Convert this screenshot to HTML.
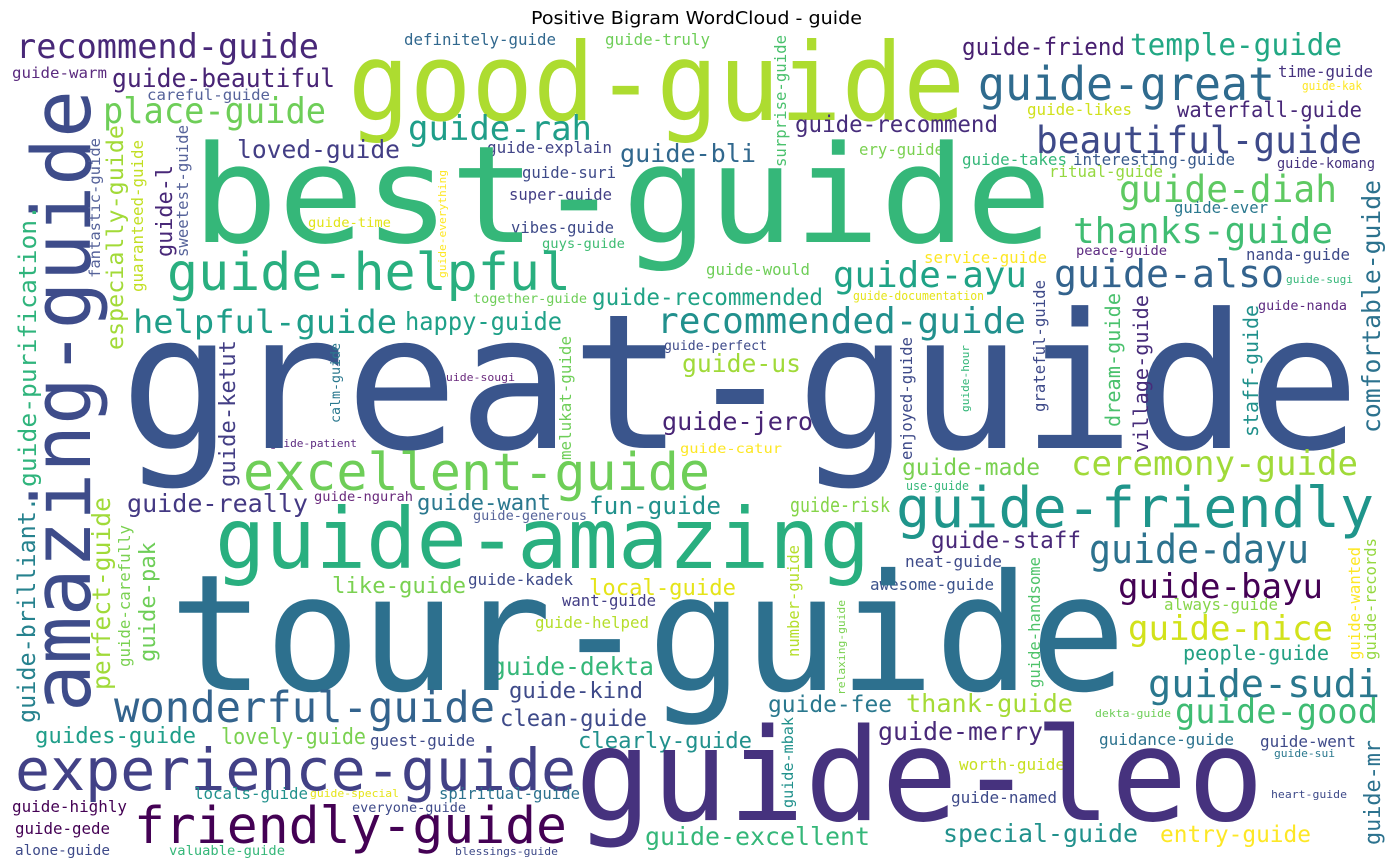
<!DOCTYPE html>
<html><head><meta charset="utf-8">
<style>
html,body{margin:0;padding:0;background:#fff;width:1389px;height:865px;overflow:hidden}
svg{display:block}
text{font-family:"DejaVu Sans Mono","Liberation Mono",monospace}
#title{font-family:"DejaVu Sans","Liberation Sans",sans-serif}
</style></head>
<body>
<svg id="cloud" width="1389" height="865" viewBox="0 0 1389 865" xmlns="http://www.w3.org/2000/svg">
<rect x="0" y="0" width="1389" height="865" fill="#fff"/>
<text id="title" x="531" y="24" font-size="18" textLength="331" lengthAdjust="spacingAndGlyphs" fill="#000">Positive Bigram WordCloud - guide</text>
<g id="words"></g>
</svg>
<script>
// horizontal words: text, left x, baseline y, length, font size, color
const hWords = [
["recommend-guide",16,58,303,34,"#482878"],
["definitely-guide",404,45,152,16,"#31688e"],
["guide-truly",605,45,105,16,"#6ece58"],
["good-guide",348,120,617,108,"#addc30"],
["guide-friend",962,55,163,24,"#471f70"],
["temple-guide",1130,55,212,30,"#22a884"],
["guide-warm",12,78,95,15,"#5b2b7f"],
["guide-beautiful",112,87,223,26,"#482475"],
["careful-guide",147,100,123,15,"#56639a"],
["guide-great",978,100,297,46,"#2f6b8e"],
["time-guide",1278,77,95,16,"#46337f"],
["guide-kak",1302,90,60,12,"#fde725"],
["place-guide",103,123,223,36,"#6ece58"],
["guide-likes",1027,115,105,16,"#d0e11c"],
["waterfall-guide",1177,117,185,21,"#482878"],
["guide-rah",408,140,184,34,"#1f9e89"],
["guide-recommend",795,132,203,23,"#472d7b"],
["beautiful-guide",1036,153,326,37,"#3e4a89"],
["loved-guide",237,158,163,25,"#433e85"],
["guide-bli",620,162,136,25,"#31688e"],
["ery-guide",859,155,85,16,"#7ad151"],
["guide-explain",487,153,125,16,"#414487"],
["guide-takes",962,165,105,16,"#35b779"],
["interesting-guide",1073,165,162,16,"#38598c"],
["guide-komang",1277,168,98,14,"#46337f"],
["ritual-guide",1049,177,114,16,"#95d840"],
["guide-suri",522,178,94,16,"#3e4a89"],
["guide-diah",1119,202,218,37,"#5ec962"],
["super-guide",509,200,103,16,"#433e85"],
["guide-ever",1174,213,94,16,"#2a788e"],
["guide-time",308,227,83,13,"#e2e418"],
["vibes-guide",511,233,103,16,"#3e4a89"],
["thanks-guide",1073,243,260,36,"#40bd72"],
["best-guide",192,242,860,135,"#35b779"],
["guys-guide",542,248,83,13,"#3fbc73"],
["peace-guide",1076,255,91,13,"#5c2a80"],
["nanda-guide",1246,260,104,16,"#3e4a89"],
["service-guide",924,263,123,16,"#fde725"],
["guide-would",706,275,104,16,"#6ece58"],
["guide-ayu",833,287,194,36,"#20a386"],
["guide-also",1054,287,230,38,"#33638d"],
["guide-sugi",1286,283,67,11,"#35b779"],
["guide-helpful",167,290,404,52,"#29af7f"],
["guide-documentation",853,300,131,12,"#e5e419"],
["together-guide",473,303,114,13,"#6ece58"],
["guide-recommended",592,305,231,23,"#20a386"],
["guide-nanda",1258,310,89,13,"#5c2a80"],
["helpful-guide",133,333,264,32,"#1f9e89"],
["happy-guide",405,330,157,25,"#1fa188"],
["recommended-guide",657,333,369,36,"#21908d"],
["guide-perfect",664,350,103,13,"#3e4a89"],
["guide-us",682,372,119,25,"#a0da39"],
["guide-sougi",439,381,76,11,"#6a2a7d"],
["guide-jero",662,430,151,25,"#482475"],
["guide-catur",680,453,102,13,"#fde725"],
["guide-patient",270,447,87,11,"#5c2a80"],
["great-guide",120,448,1240,188,"#3a558c"],
["excellent-guide",243,490,467,52,"#6ece58"],
["ceremony-guide",1071,475,287,34,"#a0da39"],
["guide-made",902,475,138,23,"#7ad151"],
["use-guide",906,490,63,12,"#35b779"],
["guide-ngurah",314,501,99,13,"#6a2a7d"],
["guide-really",127,512,181,25,"#443983"],
["guide-want",417,510,134,22,"#2a788e"],
["fun-guide",589,514,132,24,"#21918c"],
["guide-risk",790,512,100,20,"#86d549"],
["guide-friendly",896,527,478,56,"#1f958b"],
["guide-generous",473,520,114,13,"#56639a"],
["guide-staff",931,548,150,23,"#482878"],
["guide-amazing",215,568,655,84,"#29af7f"],
["guide-dayu",1089,563,220,40,"#2c728e"],
["neat-guide",905,567,97,16,"#3e4a89"],
["guide-kadek",468,585,105,16,"#3e4a89"],
["like-guide",332,593,134,22,"#7ad151"],
["local-guide",589,595,147,22,"#e5e419"],
["awesome-guide",870,590,124,16,"#3b528b"],
["guide-bayu",1118,598,205,34,"#440154"],
["want-guide",562,606,94,16,"#433e85"],
["always-guide",1164,610,114,16,"#86d549"],
["guide-helped",535,628,114,16,"#b5de2b"],
["guide-nice",1128,640,205,34,"#d2e21b"],
["people-guide",1183,660,146,20,"#23a083"],
["guide-dekta",491,675,163,25,"#35b779"],
["tour-guide",169,690,957,162,"#2d708e"],
["guide-kind",509,698,134,22,"#3e4a89"],
["guide-sudi",1148,697,232,38,"#2a788e"],
["guide-fee",768,712,124,23,"#2a788e"],
["thank-guide",906,712,167,25,"#a5db36"],
["dekta-guide",1095,717,76,11,"#6ece58"],
["wonderful-guide",114,722,381,43,"#33638d"],
["clean-guide",500,726,147,23,"#3e4a89"],
["guide-good",1175,723,203,34,"#3fbc73"],
["guide-merry",878,740,165,25,"#482878"],
["guides-guide",35,743,161,22,"#1f9e89"],
["lovely-guide",221,744,145,22,"#7ad151"],
["guest-guide",370,746,105,16,"#3e4a89"],
["clearly-guide",578,748,174,22,"#21918c"],
["guidance-guide",1099,745,135,16,"#2c728e"],
["guide-went",1260,747,96,16,"#3e4a89"],
["guide-sui",1274,757,61,11,"#2a788e"],
["worth-guide",959,770,106,16,"#c8e020"],
["experience-guide",15,790,561,58,"#424186"],
["locals-guide",194,799,114,16,"#21918c"],
["guide-special",310,797,89,11,"#e5e419"],
["spiritual-guide",439,799,141,16,"#2c728e"],
["guide-leo",575,820,689,128,"#46327e"],
["guide-named",951,803,106,16,"#3e4a89"],
["heart-guide",1271,798,76,11,"#3e4a89"],
["guide-highly",12,812,115,16,"#440154"],
["everyone-guide",352,812,114,13,"#3e4a89"],
["guide-gede",15,834,95,16,"#440154"],
["friendly-guide",134,843,433,51,"#440154"],
["guide-excellent",645,845,225,25,"#35b779"],
["special-guide",943,842,195,25,"#21918c"],
["entry-guide",1160,842,151,23,"#fde725"],
["alone-guide",15,855,95,14,"#3e4a89"],
["valuable-guide",169,855,116,13,"#35b779"],
["blessings-guide",455,855,103,11,"#3e4a89"]
];
// vertical words (read bottom to top): text, baseline x, bottom y, length, font size, color
const vWords = [
["amazing-guide",90,712,622,81,"#3e4c8a"],
["guide-purification.",36,487,282,24,"#2fb47c"],
["guide-brilliant.",35,723,226,24,"#26828e"],
["especially-guide",123,350,225,23,"#a2da37"],
["perfect-guide",110,690,193,25,"#a0da39"],
["guide-carefully",130,667,142,16,"#7ad151"],
["guide-pak",155,662,120,22,"#6ece58"],
["fantastic-guide",100,278,140,15,"#56639a"],
["guaranteed-guide",143,292,152,16,"#c2df23"],
["guide-l",172,257,92,22,"#482878"],
["sweetest-guide",188,257,132,16,"#56639a"],
["guide-everything",446,278,108,11,"#fde725"],
["guide-ketut",235,487,147,22,"#433e85"],
["calm-guide",340,423,80,13,"#2a788e"],
["melukat-guide",571,460,124,16,"#6ece58"],
["surprise-guide",786,167,132,16,"#4ac16d"],
["enjoyed-guide",912,460,123,16,"#3e4a89"],
["guide-hour",969,412,67,11,"#35b779"],
["grateful-guide",1045,412,132,16,"#3e4a89"],
["dream-guide",1120,427,134,20,"#4ac16d"],
["village-guide",1148,453,158,20,"#472c7a"],
["staff-guide",1258,437,132,20,"#21918c"],
["comfortable-guide",1380,433,253,25,"#2c728e"],
["number-guide",799,657,112,16,"#b5de2b"],
["relaxing-guide",845,695,95,11,"#7ad151"],
["guide-handsome",1040,688,131,16,"#4fc36a"],
["guide-mbak",793,808,91,15,"#21918c"],
["guide-wanted",1360,660,113,16,"#fde725"],
["guide-records",1376,660,122,16,"#95d840"],
["guide-mr",1380,845,105,22,"#2c728e"]
];
const NS = "http://www.w3.org/2000/svg";
const layer = document.getElementById("words");
function makeWord(w, vertical){
  const t = document.createElementNS(NS, "text");
  
  
  t.setAttribute("font-size", w[4]);
  t.setAttribute("fill", w[5]);
  t.setAttribute("textLength", w[3]);
  t.setAttribute("lengthAdjust", "spacingAndGlyphs");
  if (vertical) {
    t.setAttribute("x", 0);
    t.setAttribute("y", 0);
    t.setAttribute("transform", "translate(" + w[1] + "," + w[2] + ") rotate(-90)");
  } else {
    t.setAttribute("x", w[1]);
    t.setAttribute("y", w[2]);
  }
  t.textContent = w[0];
  layer.appendChild(t);
}
hWords.forEach(w => makeWord(w, false));
vWords.forEach(w => makeWord(w, true));
</script>
</body></html>
